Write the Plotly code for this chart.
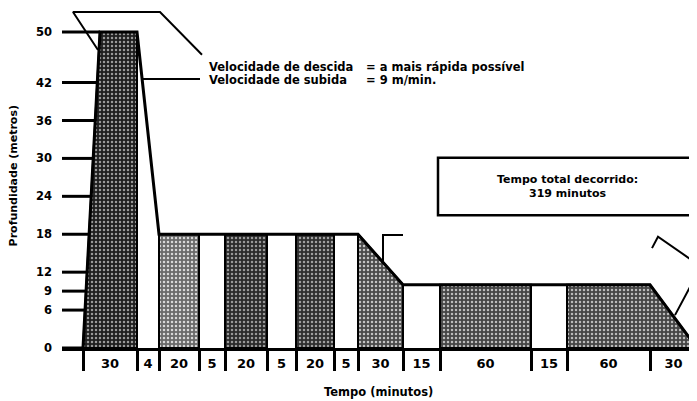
import plotly.graph_objects as go

# ---------------- data ----------------
duracao_min = [30, 4, 20, 5, 20, 5, 20, 5, 30, 15, 60, 15, 60, 30]          # x tick labels (minutes)
largura_eixo = [54, 22, 40, 26, 42, 29, 38, 24, 45, 37, 91, 36, 83, 47]     # non-uniform axis span of each segment
prof_final_m = [50, 18, 18, 18, 18, 18, 18, 18, 10, 10, 10, 10, 10, 0]      # depth at end of each segment
sombreado = [1, 0, 1, 0, 1, 0, 1, 0, 1, 0, 1, 0, 1, 1]                      # bottom time (1) or interval (0)
y_ticks = [0, 6, 9, 12, 18, 24, 30, 36, 42, 50]
total_min = sum(duracao_min)

# ---------------- geometry derived from data ----------------
n = len(duracao_min)
edges = [0]
for w in largura_eixo:
    edges.append(edges[-1] + w)
centers = [(edges[i] + edges[i + 1]) / 2 for i in range(n)]
DESC = 17  # horizontal extent of the (fast) descent
X0, X1 = -21, edges[-1]
Y0, Y1 = 0, 53.8

profile = [(0, 0), (DESC, prof_final_m[0])] + [(edges[i + 1], prof_final_m[i]) for i in range(n)]

# group consecutive shaded segments
groups = []
i = 0
while i < n:
    if sombreado[i]:
        j = i
        while j + 1 < n and sombreado[j + 1]:
            j += 1
        groups.append((i, j))
        i = j + 1
    else:
        i += 1

STYLES = [
    dict(bg="#1e1e1e", fg="#9a9a9a"),
    dict(bg="#6a6a6a", fg="#d8d8d8"),
    dict(bg="#2a2a2a", fg="#999999"),
    dict(bg="#2e2e2e", fg="#a0a0a0"),
    dict(bg="#4a4a4a", fg="#c4c4c4"),
    dict(bg="#454545", fg="#bdbdbd"),
    dict(bg="#454545", fg="#bbbbbb"),
]

FONT = dict(family="DejaVu Sans", size=11, color="black", weight="bold")
FONTV = dict(FONT, size=11.5)
FONTX = dict(FONT, size=13)

fig = go.Figure()

for k, (a, b) in enumerate(groups):
    xa, xb = edges[a], edges[b + 1]
    pts = [(xa, 0)] + [(x, d) for (x, d) in profile if xa <= x <= xb] + [(xb, 0)]
    xs = [p[0] for p in pts] + [pts[0][0]]
    ys = [p[1] for p in pts] + [pts[0][1]]
    st = STYLES[k % len(STYLES)]
    fig.add_trace(go.Scatter(
        x=xs, y=ys, mode="lines", fill="toself",
        fillpattern=dict(shape=".", bgcolor=st["bg"], fgcolor=st["fg"], size=4,
                         solidity=0.3, fillmode="replace"),
        line=dict(color="black", width=2), hoverinfo="skip", showlegend=False))

# dive profile line
fig.add_trace(go.Scatter(
    x=[p[0] for p in profile], y=[p[1] for p in profile], mode="lines",
    line=dict(color="black", width=3), hoverinfo="skip", showlegend=False))

# y tick lines running up to the descent edge
tx, ty = [], []
for t in y_ticks:
    tx += [X0, DESC * t / prof_final_m[0], None]
    ty += [t, t, None]
fig.add_trace(go.Scatter(x=tx, y=ty, mode="lines", line=dict(color="black", width=3),
                         hoverinfo="skip", showlegend=False))

# callout brackets
callouts = [
    ([15, -10, 77, 119], [47.15, 53.16, 53.16, 46.4]),
    ([60, 117], [42.56, 42.56]),
    ([320, 300, 300], [17.9, 17.9, 13.4]),
    ([569, 575, 618, 592], [15.8, 17.6, 12.9, 5.2]),
]
for cx, cy in callouts:
    fig.add_trace(go.Scatter(x=cx, y=cy, mode="lines", line=dict(color="black", width=2),
                             hoverinfo="skip", showlegend=False))

# total time box
fig.add_shape(type="rect", xref="x", yref="y", x0=355, x1=640, y0=21.0, y1=30.1,
              line=dict(color="black", width=2.5), fillcolor="white")

ann = []
ann.append(dict(x=124, y=44.5, xref="x", yref="y", xanchor="left", yanchor="middle",
                text="Velocidade de descida", showarrow=False, font=FONTV))
ann.append(dict(x=281, y=44.5, xref="x", yref="y", xanchor="left", yanchor="middle",
                text="= a mais rápida possível", showarrow=False, font=FONTV))
ann.append(dict(x=124, y=42.4, xref="x", yref="y", xanchor="left", yanchor="middle",
                text="Velocidade de subida", showarrow=False, font=FONTV))
ann.append(dict(x=281, y=42.4, xref="x", yref="y", xanchor="left", yanchor="middle",
                text="= 9 m/min.", showarrow=False, font=FONTV))
ann.append(dict(x=484, y=25.6, xref="x", yref="y", xanchor="center", yanchor="middle",
                text=f"Tempo total decorrido:<br>{total_min} minutos", showarrow=False,
                font=FONT, align="center"))
ann.append(dict(x=295, y=-0.129, xref="x", yref="paper", xanchor="center", yanchor="middle",
                text="Tempo (minutos)", showarrow=False, font=FONTV))
ann.append(dict(x=-0.077, y=0.505, xref="paper", yref="paper", xanchor="center", yanchor="middle",
                text="Profundidade (metros)", textangle=-90, showarrow=False, font=FONT))

fig.update_layout(
    width=689, height=393,
    margin=dict(l=54, r=0, t=0, b=53, pad=0),
    paper_bgcolor="white", plot_bgcolor="white",
    font=FONT,
    showlegend=False,
    annotations=ann,
    xaxis=dict(range=[X0, X1], showgrid=False, zeroline=False, automargin=False,
               showline=True, linecolor="black", linewidth=3,
               tickmode="array", tickvals=centers, ticktext=[str(d) for d in duracao_min],
               ticks="", ticklabelstandoff=1, tickfont=FONTX,
               minor=dict(tickmode="array", tickvals=edges[:-1], ticks="outside",
                          ticklen=20, tickwidth=3, tickcolor="black")),
    yaxis=dict(range=[Y0, Y1], showgrid=False, zeroline=False, showline=False, automargin=False,
               tickmode="array", tickvals=y_ticks, ticks="", ticklabelstandoff=9,
               tickfont=FONTV),
)

fig.write_html("out.html")
